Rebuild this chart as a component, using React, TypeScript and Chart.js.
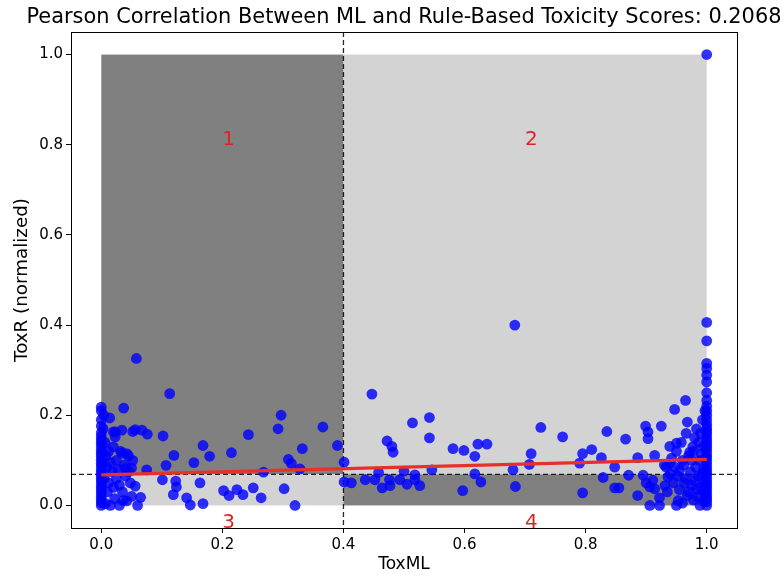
import React, { useEffect, useRef } from 'react';
import { Chart, registerables } from 'chart.js';

Chart.register(...registerables);

// ---- data ----
const titleText = 'Pearson Correlation Between ML and Rule-Based Toxicity Scores: 0.2068';
const xLabel = 'ToxML';
const yLabel = 'ToxR (normalized)';
const xTicks = [0, 0.2, 0.4, 0.6, 0.8, 1.0];
const yTicks = [0, 0.2, 0.4, 0.6, 0.8, 1.0];
const axisMin = -0.05;
const axisMax = 1.05;

// quadrant split values and box extent
const xSplit = 0.4;
const ySplit = 0.069;
const boxMin = 0;
const boxMax = 1;

// regression line endpoints
const regX = [0, 1];
const regY = [0.068, 0.102];

// quadrant labels
const quadLabels = ['1', '2', '3', '4'];
const quadLabelX = [0.2, 0.7, 0.2, 0.7];
const quadLabelY = [0.8, 0.8, -0.05, -0.05];

// scatter points [ToxML, ToxR]
const leftColumn: [number, number][] = [
  [0, 0], [0, 0.006], [0, 0.013], [0, 0.02], [0, 0.028], [0, 0.035], [0, 0.042], [0, 0.05],
  [0, 0.057], [0, 0.064], [0, 0.071], [0, 0.078], [0, 0.086], [0, 0.093], [0, 0.1], [0, 0.108],
  [0, 0.115], [0, 0.122], [0, 0.13], [0, 0.138], [0, 0.145], [0, 0.153], [0, 0.161], [0, 0.176],
  [0, 0.19], [0, 0.21], [0, 0.218],
];

const leftCluster: [number, number][] = [
  [0.004, 0.2], [0.003, 0.17], [0.006, 0.14], [0.008, 0.11], [0.005, 0.06], [0.01, 0.03],
  [0.007, 0.004], [0.009, 0.085], [0.012, 0.12], [0.012, 0.05], [0.015, 0.0], [0.015, 0.095],
  [0.018, 0.075], [0.02, 0.04], [0.02, 0.13], [0.022, 0.015], [0.025, 0.1], [0.025, 0.06],
  [0.028, 0.08], [0.03, 0.0], [0.03, 0.045], [0.032, 0.12], [0.035, 0.03], [0.038, 0.09],
  [0.04, 0.065], [0.042, 0.01], [0.045, 0.075], [0.048, 0.05], [0.05, 0.02], [0.052, 0.1],
  [0.014, 0.194], [0.023, 0.163], [0.034, 0.167], [0.037, 0.216], [0.056, 0.168], [0.067, 0.167],
  [0.076, 0.158], [0.102, 0.154], [0.023, 0.152], [0.034, 0.116], [0.045, 0.11], [0.05, 0.083],
  [0.04, 0.082], [0.075, 0.079], [0.056, 0.043], [0.036, 0.011], [0.065, 0.018], [0.06, 0.0],
  [0.052, 0.164], [0.042, 0.115], [0.02, 0.163],
];

const leftSpread: [number, number][] = [
  [0.058, 0.326], [0.113, 0.248], [0.168, 0.133], [0.12, 0.111], [0.179, 0.109], [0.153, 0.095],
  [0.107, 0.089], [0.101, 0.057], [0.123, 0.054], [0.124, 0.041], [0.163, 0.05], [0.119, 0.024],
  [0.141, 0.017], [0.147, 0.001], [0.168, 0.004],
  [0.297, 0.2], [0.292, 0.17], [0.243, 0.157], [0.366, 0.174], [0.215, 0.117], [0.332, 0.126],
  [0.39, 0.133], [0.309, 0.102], [0.314, 0.093], [0.328, 0.081], [0.268, 0.074], [0.401, 0.096],
  [0.202, 0.033], [0.211, 0.022], [0.224, 0.035], [0.234, 0.024], [0.251, 0.039], [0.264, 0.017],
  [0.302, 0.037], [0.32, 0.0],
];

const middleSpread: [number, number][] = [
  [0.401, 0.052], [0.413, 0.05],
  [0.447, 0.247], [0.514, 0.183], [0.542, 0.195], [0.542, 0.15], [0.472, 0.143], [0.48, 0.131],
  [0.482, 0.118], [0.581, 0.126], [0.599, 0.122], [0.622, 0.136], [0.637, 0.136], [0.617, 0.109],
  [0.458, 0.073], [0.5, 0.076], [0.518, 0.068], [0.546, 0.079], [0.617, 0.07], [0.436, 0.057],
  [0.452, 0.057], [0.464, 0.039], [0.476, 0.057], [0.477, 0.044], [0.493, 0.057], [0.505, 0.047],
  [0.518, 0.057], [0.526, 0.044], [0.597, 0.033], [0.627, 0.052],
  [0.726, 0.173], [0.762, 0.152], [0.71, 0.115], [0.707, 0.091], [0.68, 0.079], [0.684, 0.042],
  [0.683, 0.4], [0.795, 0.115], [0.81, 0.124], [0.79, 0.094], [0.826, 0.106], [0.829, 0.062],
  [0.795, 0.028],
];

const rightSpread: [number, number][] = [
  [0.835, 0.164], [0.848, 0.085], [0.848, 0.039], [0.855, 0.039], [0.866, 0.147], [0.871, 0.067],
  [0.886, 0.106], [0.886, 0.022], [0.895, 0.067], [0.9, 0.05], [0.899, 0.176], [0.903, 0.163],
  [0.903, 0.148], [0.906, 0.041], [0.906, 0.0], [0.911, 0.056], [0.914, 0.111], [0.914, 0.037],
  [0.922, 0.0], [0.922, 0.017], [0.925, 0.176], [0.931, 0.044], [0.933, 0.085], [0.939, 0.093],
  [0.939, 0.131], [0.947, 0.213], [0.95, 0.138], [0.953, 0.011], [0.965, 0.233], [0.968, 0.185],
  [0.983, 0.17],
];

const rightCluster: [number, number][] = [
  [0.93, 0.09], [0.935, 0.03], [0.936, 0.063], [0.94, 0.07], [0.942, 0.105], [0.945, 0.05],
  [0.947, 0.085], [0.95, 0.0], [0.95, 0.12], [0.952, 0.065], [0.955, 0.078], [0.955, 0.035],
  [0.958, 0.14], [0.96, 0.005], [0.96, 0.1], [0.962, 0.09], [0.963, 0.05], [0.965, 0.06],
  [0.966, 0.16], [0.968, 0.022], [0.97, 0.03], [0.97, 0.11], [0.972, 0.118], [0.973, 0.075],
  [0.975, 0.1], [0.975, 0.045], [0.977, 0.13], [0.978, 0.012], [0.978, 0.12], [0.98, 0.055],
  [0.98, 0.15], [0.982, 0.085], [0.984, 0.035], [0.985, 0.02], [0.986, 0.065], [0.987, 0.14],
  [0.988, 0.1], [0.989, 0.0], [0.99, 0.04], [0.99, 0.16], [0.991, 0.115], [0.992, 0.07],
  [0.993, 0.19], [0.994, 0.13], [0.995, 0.01], [0.995, 0.08], [0.996, 0.05], [0.997, 0.21],
  [0.998, 0.025],
];

const rightColumn: [number, number][] = [
  [1, 0], [1, 0.008], [1, 0.015], [1, 0.022], [1, 0.03], [1, 0.038], [1, 0.045], [1, 0.052],
  [1, 0.06], [1, 0.068], [1, 0.075], [1, 0.082], [1, 0.09], [1, 0.098], [1, 0.105], [1, 0.112],
  [1, 0.12], [1, 0.128], [1, 0.135], [1, 0.142], [1, 0.15], [1, 0.158], [1, 0.165], [1, 0.172],
  [1, 0.18], [1, 0.19], [1, 0.2], [1, 0.21], [1, 0.22], [1, 0.233], [1, 0.25], [1, 0.274],
  [1, 0.289], [1, 0.304], [1, 0.315], [1, 0.365], [1, 0.406], [1, 1.0],
];

const allPoints = [
  ...leftColumn, ...leftCluster, ...leftSpread, ...middleSpread,
  ...rightSpread, ...rightCluster, ...rightColumn,
];

const FONT = "'DejaVu Sans', sans-serif";

const backgroundPlugin = {
  id: 'quadrantBackground',
  beforeDatasetsDraw(chart: any) {
    const { ctx, chartArea, scales } = chart;
    const xs = scales.x;
    const ys = scales.y;
    const x0 = xs.getPixelForValue(boxMin);
    const x1 = xs.getPixelForValue(xSplit);
    const x2 = xs.getPixelForValue(boxMax);
    const y0 = ys.getPixelForValue(boxMin);
    const y1 = ys.getPixelForValue(ySplit);
    const y2 = ys.getPixelForValue(boxMax);
    ctx.save();
    ctx.fillStyle = '#808080';
    ctx.fillRect(x0, y2, x1 - x0, y1 - y2);
    ctx.fillStyle = '#d3d3d3';
    ctx.fillRect(x1, y2, x2 - x1, y1 - y2);
    ctx.fillStyle = '#d3d3d3';
    ctx.fillRect(x0, y1, x1 - x0, y0 - y1);
    ctx.fillStyle = '#808080';
    ctx.fillRect(x1, y1, x2 - x1, y0 - y1);

    ctx.strokeStyle = 'rgba(0,0,0,0.85)';
    ctx.lineWidth = 1.3;
    ctx.setLineDash([5, 3]);
    ctx.beginPath();
    ctx.moveTo(x1, chartArea.top);
    ctx.lineTo(x1, chartArea.bottom);
    ctx.moveTo(chartArea.left, y1);
    ctx.lineTo(chartArea.right, y1);
    ctx.stroke();
    ctx.restore();
  },
  afterDraw(chart: any) {
    const { ctx, chartArea, scales } = chart;
    ctx.save();
    ctx.strokeStyle = '#000';
    ctx.lineWidth = 1;
    ctx.strokeRect(
      Math.round(chartArea.left) + 0.5,
      Math.round(chartArea.top) + 0.5,
      Math.round(chartArea.right - chartArea.left),
      Math.round(chartArea.bottom - chartArea.top)
    );
    // title centred over the plot area
    ctx.fillStyle = '#000';
    ctx.font = `20.9px ${FONT}`;
    ctx.textAlign = 'center';
    ctx.textBaseline = 'middle';
    ctx.fillText(titleText, (chartArea.left + chartArea.right) / 2, 18);
    // quadrant labels
    ctx.fillStyle = '#d62728';
    ctx.font = `20px ${FONT}`;
    ctx.textAlign = 'left';
    ctx.textBaseline = 'alphabetic';
    quadLabels.forEach((t, i) => {
      ctx.fillText(t, scales.x.getPixelForValue(quadLabelX[i]), scales.y.getPixelForValue(quadLabelY[i]));
    });
    ctx.restore();
  },
};

export default function App() {
  const ref = useRef<HTMLCanvasElement>(null);
  useEffect(() => {
    if (!ref.current) return;
    const chart = new Chart(ref.current, {
      type: 'scatter',
      data: {
        datasets: [
          {
            type: 'line',
            data: regX.map((x, i) => ({ x, y: regY[i] })),
            borderColor: '#e8302a',
            borderWidth: 3.2,
            pointRadius: 0,
            showLine: true,
            fill: false,
            order: 0,
          } as any,
          {
            data: allPoints.map(([x, y]) => ({ x, y })),
            backgroundColor: 'rgba(0,0,255,0.8)',
            borderWidth: 0,
            pointRadius: 5.4,
            pointHoverRadius: 5.4,
            order: 1,
          },
        ],
      },
      options: {
        animation: false,
        responsive: false,
        devicePixelRatio: 1,
        layout: { padding: { left: 0, right: 47, top: 32, bottom: 0 } },
        plugins: {
          legend: { display: false },
          tooltip: { enabled: false },
          title: { display: false },
        },
        scales: {
          x: {
            type: 'linear',
            min: axisMin,
            max: axisMax,
            afterBuildTicks: (s: any) => { s.ticks = xTicks.map((value) => ({ value })); },
            afterFit: (s: any) => { s.height = 50; },
            ticks: {
              color: '#000',
              font: { family: FONT, size: 15 },
              padding: 3,
              maxRotation: 0,
              callback: (v: any) => Number(v).toFixed(1),
            },
            grid: { drawOnChartArea: false, drawTicks: true, tickLength: 5, color: '#000' },
            border: { display: false },
            title: {
              display: true,
              text: xLabel,
              color: '#000',
              font: { family: FONT, size: 17 },
              padding: { top: 0, bottom: 3 },
            },
          },
          y: {
            type: 'linear',
            min: axisMin,
            max: axisMax,
            afterBuildTicks: (s: any) => { s.ticks = yTicks.map((value) => ({ value })); },
            afterFit: (s: any) => { s.width = 71; },
            ticks: {
              color: '#000',
              font: { family: FONT, size: 15 },
              padding: 3,
              callback: (v: any) => Number(v).toFixed(1),
            },
            grid: { drawOnChartArea: false, drawTicks: true, tickLength: 5, color: '#000' },
            border: { display: false },
            title: {
              display: true,
              text: yLabel,
              color: '#000',
              font: { family: FONT, size: 18.3 },
              padding: { top: 11, bottom: 0 },
            },
          },
        },
      },
      plugins: [backgroundPlugin],
    });
    return () => chart.destroy();
  }, []);

  return (
    <div style={{ position: 'fixed', left: 0, top: 0, width: 784, height: 578, background: '#fff' }}>
      <canvas ref={ref} width={784} height={578} style={{ display: 'block' }} />
    </div>
  );
}
